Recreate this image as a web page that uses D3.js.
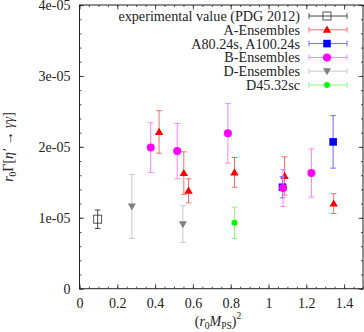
<!DOCTYPE html>
<html>
<head>
<meta charset="utf-8">
<script src="https://cdn.jsdelivr.net/npm/d3@7"></script>
<style>
body { margin: 0; background: #fff; }
svg text { font-family: "Liberation Serif", "DejaVu Serif", serif; fill: #222; }
</style>
</head>
<body>
<svg id="chart" width="364" height="332"></svg>
<script>
// values, y in units of 1e-05
pdgX = [0.096]; pdgY = [0.98]; pdgErr = [0.13];
aX = [0.421, 0.552, 0.577, 0.820, 1.085, 1.345];
aY = [2.21, 1.63, 1.38, 1.64, 1.59, 1.20];
aErr = [0.30, 0.30, 0.17, 0.21, 0.27, 0.14];
a24X = [1.074, 1.342]; a24Y = [1.43, 2.07]; a24Err = [0.15, 0.37];
bX = [0.377, 0.517, 0.785, 1.077, 1.227];
bY = [1.99, 1.94, 2.19, 1.42, 1.63];
bErr = [0.35, 0.39, 0.42, 0.26, 0.34];
dX = [0.277, 0.547]; dY = [1.16, 0.91]; dErr = [0.45, 0.26];
d45X = [0.820]; d45Y = [0.93]; d45Err = [0.22];

yTicks = [0, 1, 2, 3, 4];
yTickLabels = ['0', '1e-05', '2e-05', '3e-05', '4e-05'];
xTicks = [0, 0.2, 0.4, 0.6, 0.8, 1, 1.2, 1.4];

margin = {left: 79.5, right: 1, top: 5, bottom: 43.3};
width = 364; height = 332;

svg = d3.select('#chart');
x = d3.scaleLinear().domain([0, 1.5]).range([margin.left, width - margin.right]);
y = d3.scaleLinear().domain([0, 4]).range([height - margin.bottom, margin.top]);

series = [
	{name: 'experimental value (PDG 2012)', xs: pdgX, ys: pdgY, es: pdgErr, sym: 'box', col: '#444', bar: '#444'},
	{name: 'A-Ensembles', xs: aX, ys: aY, es: aErr, sym: 'tri', col: '#ff0000', bar: '#ff6a6a'},
	{name: 'A80.24s, A100.24s', xs: a24X, ys: a24Y, es: a24Err, sym: 'sq', col: '#0000ff', bar: '#6a6aff'},
	{name: 'B-Ensembles', xs: bX, ys: bY, es: bErr, sym: 'circ', col: '#ff00ff', bar: '#ff80ff'},
	{name: 'D-Ensembles', xs: dX, ys: dY, es: dErr, sym: 'tridown', col: '#808080', bar: '#c8c8c8'},
	{name: 'D45.32sc', xs: d45X, ys: d45Y, es: d45Err, sym: 'dot', col: '#00ff00', bar: '#80ff80'}
];

// axes, ticks inward and mirrored
function styleAxis(g){
	g.select('.domain').remove();
	g.selectAll('line').attr('stroke', '#222').attr('stroke-width', 0.8);
	g.selectAll('text').attr('font-size', 14).attr('fill', '#222')
		.attr('font-family', '"Liberation Serif", serif');
}
minorX = d3.range(0, 1.5001, 0.05);
minorY = d3.range(0, 4.001, 0.2);
bottom = height - margin.bottom;
right = width - margin.right;

svg.append('g').attr('transform', `translate(0,${bottom})`)
	.call(d3.axisBottom(x).tickValues(minorX).tickSize(-2).tickFormat('')).call(styleAxis);
svg.append('g').attr('transform', `translate(0,${bottom})`)
	.call(d3.axisBottom(x).tickValues(xTicks).tickSize(-4.5).tickPadding(9).tickFormat(d3.format('~g'))).call(styleAxis);
svg.append('g').attr('transform', `translate(0,${margin.top})`)
	.call(d3.axisTop(x).tickValues(minorX).tickSize(-2).tickFormat('')).call(styleAxis);
svg.append('g').attr('transform', `translate(0,${margin.top})`)
	.call(d3.axisTop(x).tickValues(xTicks).tickSize(-4.5).tickFormat('')).call(styleAxis);
svg.append('g').attr('transform', `translate(${margin.left},0)`)
	.call(d3.axisLeft(y).tickValues(minorY).tickSize(-2).tickFormat('')).call(styleAxis);
svg.append('g').attr('transform', `translate(${margin.left},0)`)
	.call(d3.axisLeft(y).tickValues(yTicks).tickSize(-4.5).tickPadding(9).tickFormat((d, i) => yTickLabels[i])).call(styleAxis);
svg.append('g').attr('transform', `translate(${right},0)`)
	.call(d3.axisRight(y).tickValues(minorY).tickSize(-2).tickFormat('')).call(styleAxis);
svg.append('g').attr('transform', `translate(${right},0)`)
	.call(d3.axisRight(y).tickValues(yTicks).tickSize(-4.5).tickFormat('')).call(styleAxis);

svg.append('rect')
	.attr('x', margin.left).attr('y', margin.top)
	.attr('width', right - margin.left).attr('height', bottom - margin.top)
	.attr('fill', 'none').attr('stroke', '#222').attr('stroke-width', 1);

function drawSymbol(g, sym, cx, cy, col){
	if(sym == 'box')
		g.append('rect').attr('x', cx - 4).attr('y', cy - 4).attr('width', 8).attr('height', 8)
			.attr('fill', 'none').attr('stroke', col).attr('stroke-width', 0.9);
	else if(sym == 'sq')
		g.append('rect').attr('x', cx - 3.8).attr('y', cy - 3.8).attr('width', 7.6).attr('height', 7.6).attr('fill', col);
	else if(sym == 'circ')
		g.append('circle').attr('cx', cx).attr('cy', cy).attr('r', 4).attr('fill', col);
	else if(sym == 'dot')
		g.append('circle').attr('cx', cx).attr('cy', cy).attr('r', 3).attr('fill', col);
	else if(sym == 'tri')
		g.append('path').attr('d', `M${cx},${cy-4.2}L${cx+4.2},${cy+3}L${cx-4.2},${cy+3}Z`).attr('fill', col);
	else if(sym == 'tridown')
		g.append('path').attr('d', `M${cx},${cy+4}L${cx+4},${cy-3}L${cx-4},${cy-3}Z`).attr('fill', col);
}

// error bars and points
series.forEach(s => {
	const g = svg.append('g');
	s.xs.forEach((xv, i) => {
		const cx = x(xv), y0 = y(s.ys[i] - s.es[i]), y1 = y(s.ys[i] + s.es[i]);
		g.append('line').attr('x1', cx).attr('x2', cx).attr('y1', y0).attr('y2', y1)
			.attr('stroke', s.bar).attr('stroke-width', 1);
		[y0, y1].forEach(yy => g.append('line').attr('x1', cx - 2.8).attr('x2', cx + 2.8)
			.attr('y1', yy).attr('y2', yy).attr('stroke', s.bar).attr('stroke-width', 1));
		drawSymbol(g, s.sym, cx, y(s.ys[i]), s.col);
	});
});

// legend
legendX = 300; legendY = 16; legendStep = 13.8;
series.forEach((s, i) => {
	const ly = legendY + i * legendStep;
	const g = svg.append('g');
	g.append('text').attr('x', legendX).attr('y', ly).attr('dy', '0.35em')
		.attr('text-anchor', 'end').attr('font-size', 14.2).text(s.name);
	g.append('line').attr('x1', 309).attr('x2', 347).attr('y1', ly).attr('y2', ly)
		.attr('stroke', s.bar).attr('stroke-width', 1);
	[309, 347].forEach(xx => g.append('line').attr('x1', xx).attr('x2', xx)
		.attr('y1', ly - 2.8).attr('y2', ly + 2.8).attr('stroke', s.bar).attr('stroke-width', 1));
	drawSymbol(g, s.sym, 327, ly, s.col);
});

// axis titles
xt = svg.append('text').attr('x', 218).attr('y', 326).attr('text-anchor', 'middle').attr('font-size', 14);
xt.append('tspan').text('(');
xt.append('tspan').attr('font-style', 'italic').text('r');
xt.append('tspan').attr('font-size', 9.5).attr('dy', 3).text('0');
xt.append('tspan').attr('font-style', 'italic').attr('dy', -3).text('M');
xt.append('tspan').attr('font-size', 9.5).attr('dy', 3).text('PS');
xt.append('tspan').attr('dy', -3).text(')');
xt.append('tspan').attr('font-size', 9.5).attr('dy', -7).text('2');

yt = svg.append('text').attr('transform', 'translate(13,147) rotate(-90)')
	.attr('text-anchor', 'middle').attr('font-size', 14);
yt.append('tspan').attr('font-style', 'italic').text('r');
yt.append('tspan').attr('font-size', 9.5).attr('dy', 3).text('0');
yt.append('tspan').attr('dy', -3).text('Γ[');
yt.append('tspan').attr('font-style', 'italic').text('η′');
yt.append('tspan').text(' → ');
yt.append('tspan').attr('font-style', 'italic').text('γγ');
yt.append('tspan').text(']');
</script>
</body>
</html>
